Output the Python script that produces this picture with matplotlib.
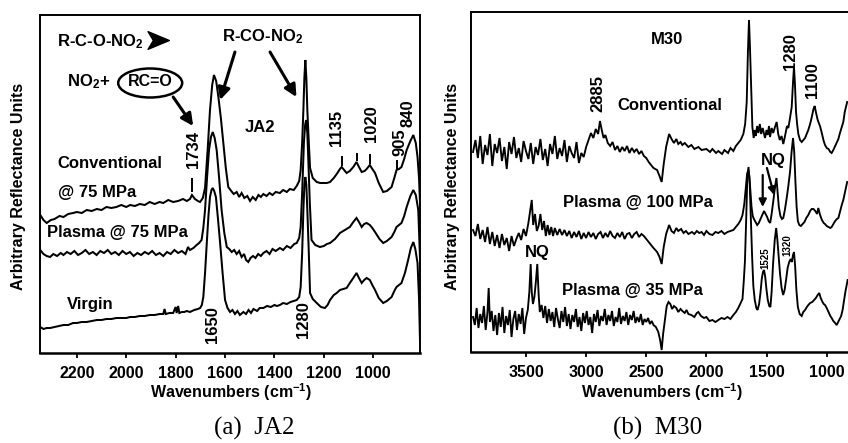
import matplotlib
matplotlib.use("Agg")
import matplotlib.pyplot as plt
from matplotlib.patches import Ellipse
from matplotlib.path import Path

plt.rcParams['font.family'] = ['Liberation Sans', 'DejaVu Sans']
plt.rcParams['mathtext.fontset'] = 'custom'
plt.rcParams['mathtext.rm'] = 'Liberation Sans:bold'
plt.rcParams['mathtext.it'] = 'Liberation Sans:bold'
plt.rcParams['mathtext.bf'] = 'Liberation Sans:bold'
plt.rcParams['mathtext.default'] = 'rm'

# ---------------- Panel (a) JA2 : (wavenumber, arbitrary reflectance) ----------------
ja2_conventional = [(2348,138),(2335,133),(2322,130),(2305,133),(2290,134),(2270,137),(2254,136),(2235,139),(2215,140),(2200,141),(2180,140),(2160,143),(2140,142),(2119,144),(2100,143),(2080,146),(2060,145),(2040,146),(2020,148),(2000,146),(1984,148),(1965,147),(1945,149),(1925,148),(1905,151),(1885,149),(1865,151),(1850,150),(1830,153),(1810,151),(1790,152),(1770,154),(1755,152),(1742,154),(1734,158),(1722,154),(1710,152),(1701,151),(1690,155),(1681,165),(1670,205),(1661,243),(1652,268),(1645,278),(1636,272),(1627,256),(1617,235),(1607,210),(1597,185),(1587,166),(1575,162),(1565,159),(1553,161),(1543,156),(1533,160),(1522,155),(1510,157),(1499,152),(1488,156),(1476,153),(1465,158),(1455,156),(1445,159),(1432,157),(1420,160),(1408,158),(1395,161),(1378,160),(1365,163),(1350,161),(1338,164),(1322,163),(1310,167),(1300,172),(1294,183),(1288,210),(1283,243),(1279,275),(1275,293),(1271,275),(1267,243),(1261,210),(1256,185),(1245,175),(1229,171),(1215,170),(1200,170),(1188,170),(1175,171),(1160,175),(1148,179),(1135,184),(1128,186),(1118,183),(1108,180),(1095,182),(1081,186),(1068,191),(1058,186),(1047,181),(1035,182),(1027,184),(1014,188),(1004,184),(993,180),(978,170),(960,161),(945,162),(926,166),(915,175),(906,183),(896,184),(886,186),(875,194),(865,203),(850,212),(838,218),(828,210),(821,196),(815,175),(811,150)]

ja2_plasma75 = [(2348,103),(2335,99),(2322,97),(2308,96),(2295,99),(2280,97),(2265,100),(2254,98),(2240,101),(2225,99),(2210,102),(2195,98),(2180,100),(2165,103),(2150,99),(2135,101),(2120,98),(2105,102),(2090,100),(2075,103),(2060,99),(2045,101),(2030,98),(2015,102),(2000,99),(1985,101),(1970,97),(1955,100),(1940,98),(1925,101),(1910,99),(1895,102),(1880,98),(1865,100),(1850,97),(1835,101),(1820,99),(1805,103),(1790,100),(1775,102),(1760,99),(1750,106),(1742,103),(1728,105),(1715,108),(1705,110),(1695,113),(1688,125),(1681,143),(1673,175),(1665,203),(1657,216),(1650,221),(1642,215),(1634,203),(1624,175),(1614,143),(1603,120),(1593,106),(1583,104),(1573,101),(1563,103),(1553,99),(1543,102),(1533,96),(1523,99),(1515,93),(1506,91),(1497,95),(1487,97),(1477,95),(1466,99),(1455,97),(1445,100),(1432,102),(1420,99),(1408,104),(1395,102),(1378,105),(1365,103),(1350,107),(1335,105),(1320,109),(1310,110),(1300,115),(1294,126),(1288,160),(1281,210),(1276,228),(1272,233),(1267,220),(1263,193),(1257,150),(1250,113),(1235,108),(1216,106),(1200,107),(1188,109),(1175,110),(1155,114),(1135,120),(1115,123),(1095,126),(1081,131),(1068,135),(1058,131),(1047,126),(1037,129),(1027,130),(1014,128),(1004,125),(993,121),(975,114),(960,110),(945,112),(926,116),(915,121),(906,126),(896,128),(886,130),(875,137),(865,146),(850,157),(838,163),(828,158),(818,143),(811,95)]

ja2_virgin = [(2348,26),(2335,24),(2322,25),(2308,25),(2290,26),(2270,27),(2254,28),(2235,28),(2215,30),(2200,30),(2180,31),(2160,31),(2140,32),(2119,33),(2100,33),(2080,34),(2060,34),(2040,35),(2020,35),(2000,35),(1984,36),(1965,36),(1945,37),(1925,37),(1905,38),(1885,38),(1865,39),(1850,39),(1845,44),(1840,39),(1825,40),(1810,40),(1800,46),(1796,40),(1790,47),(1785,40),(1775,41),(1765,41),(1755,42),(1742,41),(1725,43),(1710,44),(1701,45),(1694,48),(1688,56),(1681,80),(1674,110),(1667,138),(1661,156),(1655,163),(1650,165),(1644,162),(1637,156),(1629,135),(1620,110),(1610,80),(1600,53),(1590,45),(1580,41),(1570,43),(1560,39),(1550,42),(1540,38),(1526,41),(1515,39),(1505,43),(1495,40),(1485,44),(1470,42),(1460,45),(1445,45),(1430,47),(1415,46),(1400,48),(1390,47),(1378,48),(1365,50),(1350,49),(1335,51),(1322,52),(1310,53),(1300,56),(1294,66),(1288,100),(1283,143),(1279,168),(1275,176),(1271,168),(1267,143),(1261,100),(1256,60),(1245,54),(1229,50),(1212,46),(1196,45),(1185,48),(1175,53),(1160,58),(1148,60),(1135,63),(1122,64),(1108,65),(1095,70),(1081,75),(1068,80),(1058,75),(1047,70),(1037,73),(1027,75),(1014,73),(1004,68),(993,63),(978,55),(960,50),(945,52),(926,56),(915,62),(906,66),(896,68),(886,70),(872,80),(859,93),(848,105),(838,111),(830,104),(821,90),(815,55),(811,12)]

ja2_ticks = [2200, 2000, 1800, 1600, 1400, 1200, 1000]
ja2_peak_marks = [(1734, 161, 175), (1128, 187, 197), (1068, 192, 200), (1014, 189, 199), (906, 184, 193)]

# ---------------- Panel (b) M30 ----------------
m30_conventional = [(3940,200),(3920,212),(3900,194),(3880,216),(3860,188),(3840,207),(3820,197),(3800,218),(3780,186),(3760,208),(3740,199),(3720,214),(3700,191),(3680,205),(3660,183),(3640,210),(3620,198),(3600,215),(3580,194),(3560,204),(3540,190),(3520,211),(3500,201),(3480,193),(3460,209),(3440,188),(3420,205),(3400,197),(3380,213),(3360,192),(3340,203),(3320,186),(3300,208),(3280,198),(3260,216),(3240,193),(3220,204),(3200,196),(3180,212),(3160,190),(3140,206),(3120,199),(3100,194),(3080,210),(3060,189),(3040,199),(3020,195),(3000,205),(2980,212),(2960,219),(2940,214),(2920,223),(2900,218),(2885,231),(2870,222),(2855,214),(2840,217),(2820,209),(2800,206),(2780,210),(2760,202),(2740,206),(2720,200),(2700,205),(2680,201),(2660,206),(2640,199),(2620,204),(2600,200),(2580,203),(2560,198),(2540,201),(2520,196),(2500,194),(2480,190),(2460,187),(2440,184),(2410,182),(2390,176),(2372,170),(2355,188),(2335,205),(2310,218),(2290,213),(2270,209),(2250,213),(2234,208),(2215,210),(2200,207),(2180,209),(2150,205),(2125,207),(2100,203),(2067,205),(2040,202),(2000,203),(1970,200),(1950,203),(1920,199),(1901,201),(1870,198),(1850,202),(1820,199),(1800,204),(1776,201),(1755,206),(1735,209),(1715,212),(1693,218),(1678,228),(1665,250),(1655,300),(1646,332),(1638,305),(1629,270),(1618,225),(1607,214),(1598,222),(1590,216),(1578,226),(1568,219),(1556,228),(1545,218),(1532,224),(1513,214),(1500,222),(1490,217),(1480,226),(1471,215),(1458,224),(1445,219),(1430,225),(1416,230),(1403,218),(1390,212),(1375,216),(1361,208),(1350,214),(1340,220),(1330,226),(1319,224),(1305,234),(1291,245),(1280,270),(1272,285),(1264,268),(1255,240),(1246,228),(1236,218),(1222,212),(1208,210),(1194,212),(1180,214),(1166,218),(1153,222),(1138,228),(1124,235),(1110,243),(1100,246),(1090,240),(1075,232),(1056,226),(1045,221),(1035,216),(1025,211),(1014,207),(1000,204),(985,203),(970,200),(959,199),(945,202),(930,206),(915,210),(903,213),(890,219),(875,225),(862,230),(850,240),(840,245),(830,250)]

m30_plasma100 = [(3940,122),(3920,116),(3900,128),(3880,113),(3860,122),(3840,110),(3820,125),(3800,108),(3780,120),(3760,106),(3740,117),(3720,104),(3700,118),(3680,107),(3660,114),(3640,101),(3620,116),(3600,106),(3580,113),(3560,119),(3540,112),(3520,123),(3500,116),(3480,129),(3465,141),(3452,152),(3440,127),(3425,138),(3410,121),(3395,126),(3380,138),(3365,122),(3350,131),(3335,116),(3320,127),(3305,117),(3290,125),(3275,116),(3260,124),(3240,117),(3220,123),(3200,117),(3180,122),(3160,116),(3140,121),(3120,114),(3100,120),(3080,115),(3060,121),(3040,113),(3020,119),(3000,114),(2980,120),(2960,115),(2940,119),(2920,113),(2900,118),(2880,120),(2860,114),(2840,119),(2820,115),(2800,121),(2780,116),(2760,114),(2740,119),(2720,115),(2700,120),(2680,113),(2660,118),(2640,119),(2620,114),(2600,118),(2580,120),(2560,115),(2540,118),(2520,116),(2500,113),(2480,110),(2460,107),(2440,104),(2410,100),(2390,95),(2372,88),(2355,105),(2335,118),(2310,127),(2290,121),(2270,119),(2250,124),(2234,121),(2210,123),(2190,119),(2170,121),(2150,118),(2120,120),(2100,118),(2080,121),(2060,119),(2040,120),(2020,117),(2000,121),(1975,118),(1950,117),(1925,120),(1901,119),(1875,121),(1850,118),(1825,120),(1800,121),(1776,122),(1755,125),(1735,128),(1715,132),(1700,137),(1685,148),(1672,165),(1662,178),(1652,182),(1643,176),(1634,160),(1625,145),(1615,136),(1605,133),(1592,130),(1578,127),(1565,129),(1550,133),(1535,137),(1521,141),(1508,138),(1495,135),(1483,131),(1470,129),(1458,138),(1445,150),(1430,165),(1418,174),(1408,160),(1398,145),(1385,136),(1372,133),(1361,134),(1348,142),(1335,152),(1320,165),(1305,180),(1292,200),(1280,214),(1270,200),(1260,170),(1250,145),(1240,131),(1228,127),(1215,126),(1200,128),(1185,130),(1170,134),(1153,137),(1138,141),(1125,143),(1110,143),(1095,141),(1080,138),(1070,144),(1055,137),(1040,132),(1025,129),(1014,128),(1000,126),(985,125),(970,124),(959,125),(945,128),(930,131),(915,133),(903,134),(890,140),(875,147),(862,152),(848,160),(838,166),(830,170)]

m30_plasma35 = [(3940,35),(3925,27),(3910,44),(3895,24),(3880,38),(3865,29),(3850,46),(3835,22),(3820,40),(3810,64),(3800,30),(3785,41),(3770,21),(3755,37),(3740,17),(3725,39),(3710,25),(3695,45),(3680,19),(3665,36),(3650,27),(3635,42),(3620,15),(3605,33),(3590,41),(3575,22),(3560,38),(3545,28),(3530,44),(3515,18),(3500,34),(3485,42),(3472,60),(3461,88),(3452,60),(3442,48),(3430,55),(3418,70),(3406,88),(3395,58),(3385,40),(3370,47),(3355,34),(3340,46),(3325,29),(3310,43),(3295,31),(3280,40),(3265,25),(3250,44),(3235,33),(3220,24),(3205,41),(3190,30),(3175,45),(3160,26),(3145,38),(3130,23),(3115,37),(3100,30),(3085,43),(3070,25),(3055,35),(3040,21),(3025,39),(3010,29),(2995,41),(2980,27),(2965,35),(2950,19),(2935,38),(2920,30),(2905,42),(2890,26),(2875,36),(2860,31),(2845,43),(2830,27),(2815,37),(2800,31),(2785,41),(2770,26),(2755,35),(2740,30),(2725,44),(2710,28),(2695,36),(2680,31),(2665,40),(2650,27),(2635,37),(2620,32),(2605,41),(2590,29),(2575,35),(2560,30),(2545,38),(2530,27),(2515,33),(2500,30),(2485,34),(2470,28),(2455,31),(2440,27),(2420,25),(2400,20),(2385,12),(2372,2),(2360,18),(2345,32),(2330,46),(2315,50),(2300,48),(2285,43),(2270,46),(2250,44),(2234,40),(2215,43),(2200,41),(2180,39),(2165,42),(2150,38),(2125,37),(2100,35),(2080,39),(2067,40),(2045,36),(2020,34),(2000,35),(1975,31),(1950,32),(1925,30),(1901,32),(1875,34),(1850,33),(1825,35),(1800,33),(1776,37),(1755,40),(1735,44),(1715,49),(1700,53),(1690,70),(1680,90),(1670,130),(1660,175),(1650,185),(1640,168),(1630,130),(1620,95),(1610,66),(1598,52),(1585,44),(1575,42),(1562,48),(1550,60),(1540,73),(1530,80),(1521,82),(1512,76),(1502,64),(1490,52),(1478,46),(1468,45),(1458,60),(1446,88),(1432,112),(1420,124),(1410,112),(1400,96),(1388,78),(1375,64),(1362,57),(1350,62),(1338,72),(1325,84),(1312,90),(1300,93),(1290,90),(1280,97),(1272,100),(1262,85),(1252,62),(1240,45),(1225,38),(1208,36),(1195,40),(1180,42),(1165,45),(1153,47),(1138,49),(1120,50),(1105,52),(1090,54),(1075,57),(1062,59),(1050,54),(1035,50),(1025,48),(1014,47),(1000,44),(985,40),(970,36),(959,34),(945,31),(930,29),(917,27),(905,30),(893,33),(880,36),(868,42),(855,52),(845,60),(834,67),(826,72)]

m30_ticks = [3500, 3000, 2500, 2000, 1500, 1000]

# ---------------- figure ----------------
W, H = 848, 443
fig = plt.figure(figsize=(W / 100, H / 100), dpi=100)
ax_a = fig.add_axes([40 / W, 90 / H, 380 / W, 338 / H])
ax_b = fig.add_axes([471 / W, 91 / H, 377 / W, 340 / H])

BOLD = dict(fontweight='bold', color='black')
LBL = 12


def draw(ax, spectra, lw):
    for spec in spectra:
        x, y = zip(*spec)
        ax.plot(x, y, color='black', lw=lw, solid_joinstyle='miter')


def style(ax, ticks, xlim, ylim, right=True):
    ax.set_xlim(*xlim)
    ax.set_ylim(*ylim)
    ax.set_xticks(ticks)
    ax.set_xticklabels([str(t) for t in ticks], fontsize=11.5, fontweight='bold')
    ax.set_yticks([])
    ax.tick_params(axis='x', direction='out', length=3.5, width=1.3, pad=6)
    for s in ax.spines.values():
        s.set_linewidth(1.4)
    ax.spines['bottom'].set_linewidth(1.8)
    ax.spines['right'].set_visible(right)


draw(ax_a, [ja2_conventional, ja2_plasma75, ja2_virgin], 1.45)
style(ax_a, ja2_ticks, (2349, 811), (0, 338))

draw(ax_b, [m30_conventional, m30_plasma100, m30_plasma35], 1.35)
style(ax_b, m30_ticks, (3957, 823), (0, 340), right=False)

# ---- annotations panel (a)
for wn, y0, y1 in ja2_peak_marks:
    ax_a.vlines(wn, y0, y1, color='black', lw=1.4)

ax_a.text(2280, 311, r"R-C-O-NO$_2$", fontsize=LBL, ha='left', va='center', **BOLD)
arrow_head = Path([(1, 0), (-0.8, 0.75), (-0.35, 0), (-0.8, -0.75), (1, 0)],
                  [Path.MOVETO, Path.LINETO, Path.LINETO, Path.LINETO, Path.CLOSEPOLY])
ax_a.plot([1875], [313], marker=arrow_head, ms=17, color='black', mec='black')
ax_a.text(1612, 316, r"R-CO-NO$_2$", fontsize=LBL, ha='left', va='center', **BOLD)
ax_a.text(2239, 271, r"NO$_2$+", fontsize=LBL, ha='left', va='center', **BOLD)
ax_a.add_patch(Ellipse((1903, 270), width=259, height=29, fill=False, lw=1.8, color='black'))
ax_a.text(1903, 271, "RC=O", fontsize=LBL - 0.5, ha='center', va='center', **BOLD)

arrow_kw = dict(arrowstyle='-|>', lw=2.2, color='black', mutation_scale=18, shrinkA=0, shrinkB=0)
ax_a.annotate("", xy=(1729, 227), xytext=(1810, 256), arrowprops=arrow_kw)
ax_a.annotate("", xy=(1620, 253), xytext=(1560, 301), arrowprops=arrow_kw)
ax_a.annotate("", xy=(1311, 256), xytext=(1418, 301), arrowprops=arrow_kw)

ax_a.text(1458, 225, "JA2", fontsize=LBL, ha='center', va='center', **BOLD)
ax_a.text(2280, 190, "Conventional", fontsize=LBL, ha='left', va='center', **BOLD)
ax_a.text(2276, 160, "@ 75 MPa", fontsize=LBL, ha='left', va='center', **BOLD)
ax_a.text(2320, 120, "Plasma @ 75 MPa", fontsize=LBL, ha='left', va='center', **BOLD)
ax_a.text(2239, 48, "Virgin", fontsize=LBL, ha='left', va='center', **BOLD)

ax_a.text(1729, 203, "1734", fontsize=LBL, rotation=90, ha='center', va='center', **BOLD)
ax_a.text(1150, 225, "1135", fontsize=LBL, rotation=90, ha='center', va='center', **BOLD)
ax_a.text(1007, 229, "1020", fontsize=LBL, rotation=90, ha='center', va='center', **BOLD)
ax_a.text(892, 211, "905", fontsize=LBL, rotation=90, ha='center', va='center', **BOLD)
ax_a.text(858, 240, "840", fontsize=LBL, rotation=90, ha='center', va='center', **BOLD)
ax_a.text(1652, 28, "1650", fontsize=LBL, rotation=90, ha='center', va='center', **BOLD)
ax_a.text(1284, 33, "1280", fontsize=LBL, rotation=90, ha='center', va='center', **BOLD)

# ---- annotations panel (b)
ax_b.text(2328, 312, "M30", fontsize=LBL, ha='center', va='center', **BOLD)
ax_b.text(2905, 259, "2885", fontsize=LBL, rotation=90, ha='center', va='center', **BOLD)
ax_b.text(2743, 247, "Conventional", fontsize=LBL, ha='left', va='center', **BOLD)
ax_b.text(1300, 300, "1280", fontsize=LBL, rotation=90, ha='center', va='center', **BOLD)
ax_b.text(1114, 272, "1100", fontsize=LBL, rotation=90, ha='center', va='center', **BOLD)
ax_b.text(1447, 192, "NQ", fontsize=LBL, ha='center', va='center', **BOLD)
arrow_kw_b = dict(arrowstyle='-|>', lw=1.6, color='black', mutation_scale=11, shrinkA=0, shrinkB=0)
ax_b.annotate("", xy=(1532, 145), xytext=(1532, 177), arrowprops=arrow_kw_b)
ax_b.annotate("", xy=(1438, 157), xytext=(1497, 184), arrowprops=arrow_kw_b)
ax_b.text(3192, 150, "Plasma @ 100 MPa", fontsize=LBL, ha='left', va='center', **BOLD)
ax_b.text(3409, 99, "NQ", fontsize=LBL, ha='center', va='center', **BOLD)
ax_b.text(3200, 62, "Plasma @ 35 MPa", fontsize=LBL, ha='left', va='center', **BOLD)
ax_b.text(1513, 94, "1525", fontsize=7, rotation=90, ha='center', va='center', **BOLD)
ax_b.text(1330, 107, "1320", fontsize=7, rotation=90, ha='center', va='center', **BOLD)

# ---- axis titles and captions
fig.text(19 / W, 1 - 186 / H, "Arbitrary Reflectance Units", rotation=90, ha='center', va='center',
         fontsize=11.5, **BOLD)
fig.text(453 / W, 1 - 186 / H, "Arbitrary Reflectance Units", rotation=90, ha='center', va='center',
         fontsize=11.5, **BOLD)
fig.text(231 / W, 1 - 392 / H, r"Wavenumbers (cm$^{\mathbf{-1}}$)", ha='center', va='center',
         fontsize=11.5, **BOLD)
fig.text(662 / W, 1 - 392 / H, r"Wavenumbers (cm$^{\mathbf{-1}}$)", ha='center', va='center',
         fontsize=11.5, **BOLD)
fig.text(254 / W, 1 - 428 / H, "(a)  JA2", ha='center', va='center', fontsize=18,
         family=['Liberation Serif', 'DejaVu Serif'], color='black')
fig.text(658 / W, 1 - 428 / H, "(b)  M30", ha='center', va='center', fontsize=18,
         family=['Liberation Serif', 'DejaVu Serif'], color='black')

fig.savefig("out.png", dpi=100)
